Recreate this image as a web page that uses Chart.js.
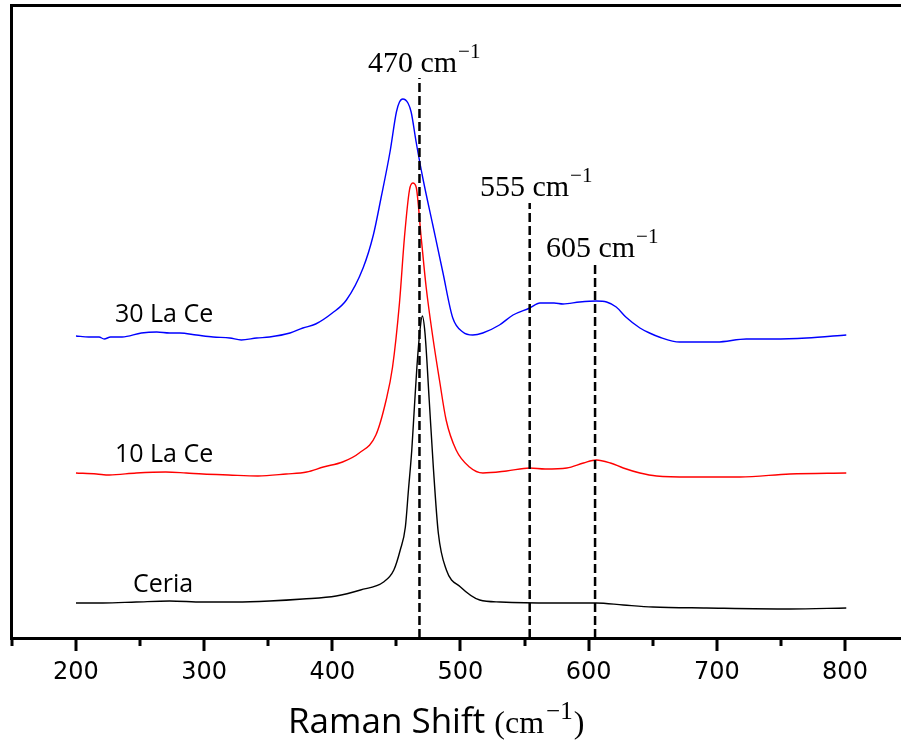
<!DOCTYPE html>
<html>
<head>
<meta charset="utf-8">
<title>Raman spectra</title>
<script src="https://cdn.jsdelivr.net/npm/chart.js@4.4.1/dist/chart.umd.min.js"></script>
<style>
    html, body { margin: 0; padding: 0; background: #fff; overflow: hidden; }
    canvas { display: block; }
</style>
</head>
<body>
<canvas id="ramanChart" width="901" height="743"></canvas>
<script>
// Raman shift (cm-1) and intensity (a.u., offset per sample)
const ceriaShift = [200, 221, 247, 273, 299, 325, 351, 377, 403, 422, 440, 448, 453, 457, 459.4, 462, 464, 466, 468.4, 470.2, 472.3, 475.6, 478.8, 482.7, 489, 500, 515, 531, 572, 606, 627, 650, 692, 757, 801];
const ceriaIntensity = [35, 35, 36, 37, 36, 36, 37, 39, 42, 48, 56, 68, 88, 111, 148, 188, 230, 271, 308, 322, 305, 238, 171, 105, 68, 51, 38, 36, 35, 35, 33, 31, 30, 29, 30];

const la10Shift = [200, 216, 226, 247, 270, 286, 299, 319, 342, 364, 380, 393, 408, 421, 434, 442, 447, 452.4, 456.3, 460.2, 462.8, 465.4, 469.3, 473.2, 478.4, 483.6, 488.8, 496.6, 507, 517.5, 536, 554, 566, 583, 596, 606, 617, 627, 640, 653, 679, 718, 757, 801];
const la10Intensity = [165, 164, 163, 165, 166, 165, 164, 163, 162, 164, 166, 171, 176, 185, 203, 238, 271, 335, 401, 448, 455, 451, 401, 351, 301, 258, 218, 188, 171, 165, 167, 170, 169, 170, 175, 178, 175, 170, 165, 162, 161, 161, 164, 165];

const la30Shift = [200, 210, 218, 222, 227, 236, 251, 263, 273, 281, 294, 307, 320, 329, 341, 351, 367, 377, 387, 400, 411, 424, 432, 438, 445, 450, 452.4, 455, 459, 461.5, 465.4, 470.6, 478.4, 486.2, 494, 501.8, 509.6, 517.4, 530.4, 541, 554, 562, 573, 580, 593, 606, 614, 621.5, 629, 640, 647.5, 655, 671, 700, 723, 744, 770, 801];
const la30Intensity = [302, 301, 301, 299, 301, 301, 305, 306, 305, 305, 303, 301, 300, 298, 300, 301, 305, 310, 314, 325, 338, 370, 403, 440, 486, 526, 536, 539, 535, 526, 496, 460, 413, 366, 320, 306, 303, 305, 313, 323, 330, 335, 335, 334, 336, 337, 336, 331, 321, 310, 305, 301, 296, 296, 299, 299, 300, 303];

// dashed peak markers
const markerShift = [468, 554, 605];
const markerTop = [560, 435, 373];
const markerLabels = ['470', '555', '605'];

// x axis ticks (labels only on the hundreds)
const xTickValues = [150, 200, 250, 300, 350, 400, 450, 500, 550, 600, 650, 700, 750, 800];

// sample names
const sampleNames = ['30 La Ce', '10 La Ce', 'Ceria'];

const X_MIN = 149.3;
const X_MAX = 843.7;

// anchors (data units) for the text drawn on the plot
const markerTextAnchors = [[427.8, 566], [515.2, 442], [566.7, 381]];
const sampleTextAnchors = [[230.4, 316], [230.4, 176], [244.5, 46]];

function toPoints(xs, ys) {
    return xs.map((v, i) => ({ x: v, y: ys[i] }));
}

function drawRich(ctx, parts, x, y) {
    parts.forEach(p => {
        ctx.font = p.font;
        x += (p.pre || 0);
        ctx.fillText(p.text, x, y + (p.dy || 0));
        x += ctx.measureText(p.text).width;
    });
}

const decorPlugin = {
    id: 'decor',
    afterDraw(chart) {
        const { ctx, chartArea } = chart;
        const x = chart.scales.x;
        const y = chart.scales.y;
        ctx.save();

        // tick marks below the axis
        ctx.strokeStyle = '#000';
        ctx.lineWidth = 3;
        xTickValues.forEach(v => {
            const px = Math.round(x.getPixelForValue(v));
            const len = v % 100 === 0 ? 13 : 8;
            ctx.beginPath();
            ctx.moveTo(px, chartArea.bottom);
            ctx.lineTo(px, chartArea.bottom + len);
            ctx.stroke();
        });

        ctx.fillStyle = '#000';
        ctx.textAlign = 'left';
        ctx.textBaseline = 'alphabetic';

        // peak labels
        markerLabels.forEach((lab, i) => {
            const [ax, ay] = markerTextAnchors[i];
            drawRich(ctx, [
                { text: lab + ' cm', font: '30px "Liberation Serif"' },
                { text: '\u22121', font: '21px "Liberation Serif"', dy: -14, pre: 1 }
            ], x.getPixelForValue(ax), y.getPixelForValue(ay));
        });

        // sample labels
        ctx.font = '25px "Open Sans"';
        sampleNames.forEach((name, i) => {
            const [ax, ay] = sampleTextAnchors[i];
            ctx.fillText(name, x.getPixelForValue(ax), y.getPixelForValue(ay));
        });

        // axis title
        drawRich(ctx, [
            { text: 'Raman Shift ', font: '35px "Open Sans"' },
            { text: '(cm', font: '32px "Liberation Serif"' },
            { text: '\u22121', font: '25px "Liberation Serif"', dy: -14, pre: 2 },
            { text: ')', font: '32px "Liberation Serif"', pre: 1 }
        ], chartArea.left + 277, 733);

        ctx.restore();
    }
};

const lineBase = {
    pointRadius: 0,
    borderWidth: 1.4,
    fill: false,
    cubicInterpolationMode: 'monotone'
};

const markerSets = markerShift.map((s, i) => ({
    data: [{ x: s, y: 0 }, { x: s, y: markerTop[i] }],
    borderColor: '#000',
    borderWidth: 2.5,
    borderDash: [9, 4],
    pointRadius: 0,
    fill: false
}));

new Chart(document.getElementById('ramanChart'), {
    type: 'line',
    data: {
        datasets: [
            ...markerSets,
            { ...lineBase, label: sampleNames[2], data: toPoints(ceriaShift, ceriaIntensity), borderColor: '#000000' },
            { ...lineBase, label: sampleNames[1], data: toPoints(la10Shift, la10Intensity), borderColor: '#ff0000' },
            { ...lineBase, label: sampleNames[0], data: toPoints(la30Shift, la30Intensity), borderColor: '#0000ff' }
        ]
    },
    options: {
        responsive: false,
        animation: false,
        layout: { padding: 0, autoPadding: false },
        plugins: {
            legend: { display: false },
            tooltip: { enabled: false }
        },
        scales: {
            x: {
                type: 'linear',
                position: 'bottom',
                min: X_MIN,
                max: X_MAX,
                afterBuildTicks: scale => {
                    scale.ticks = xTickValues.map(v => ({ value: v }));
                },
                afterFit: scale => {
                    scale.height = 105;
                    scale.paddingLeft = 0;
                    scale.paddingRight = 0;
                },
                grid: { display: false },
                border: { display: true, color: '#000', width: 3 },
                ticks: {
                    autoSkip: false,
                    maxRotation: 0,
                    padding: 12,
                    color: '#000',
                    font: { family: 'DejaVu Sans', size: 24 },
                    callback: v => (v % 100 === 0 ? String(v) : '')
                }
            },
            xTop: {
                type: 'linear',
                position: 'top',
                min: X_MIN,
                max: X_MAX,
                afterFit: scale => { scale.height = 5; },
                grid: { display: false },
                border: { display: true, color: '#000', width: 3 },
                ticks: { display: false }
            },
            y: {
                type: 'linear',
                min: 0,
                max: 633,
                afterFit: scale => { scale.width = 11; },
                grid: { display: false },
                border: { display: true, color: '#000', width: 3 },
                ticks: { display: false }
            }
        }
    },
    plugins: [decorPlugin]
});
</script>
</body>
</html>
